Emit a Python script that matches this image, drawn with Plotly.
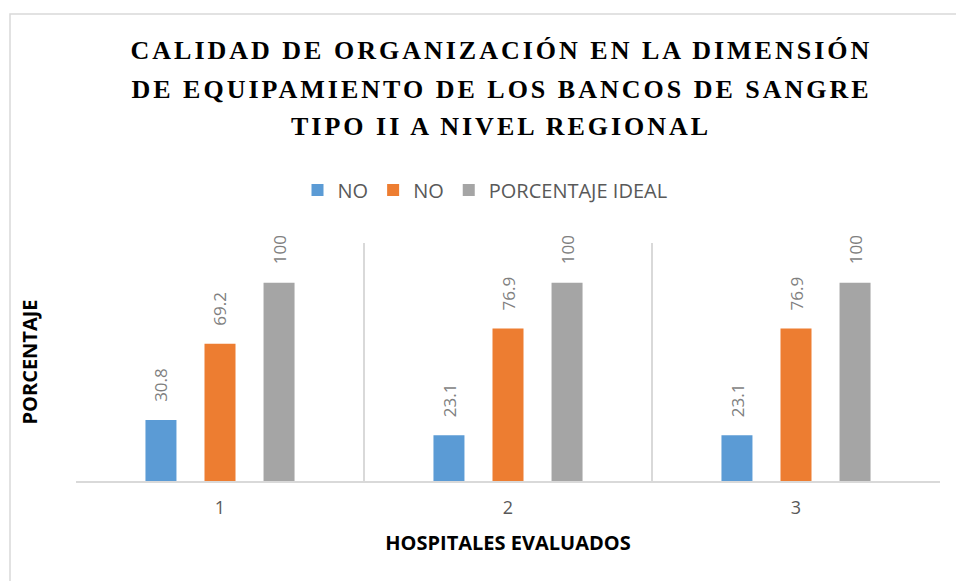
import plotly.graph_objects as go

# Hospitals evaluated and percentages per series
hospitales = [1, 2, 3]
serie_no_1 = [30.8, 23.1, 23.1]
serie_no_2 = [69.2, 76.9, 76.9]
porcentaje_ideal = [100, 100, 100]

nombres = ["NO", "NO", "PORCENTAJE IDEAL"]
colores = ["#5B9BD5", "#ED7D31", "#A5A5A5"]
series = [serie_no_1, serie_no_2, porcentaje_ideal]

titulo = [
    "CALIDAD DE ORGANIZACIÓN EN LA DIMENSIÓN",
    "DE EQUIPAMIENTO DE LOS BANCOS DE SANGRE",
    "TIPO II A NIVEL REGIONAL",
]

W, H = 956, 581
M_L, M_R, M_T, M_B = 76, 16, 243, 100
BARGAP = 0.385
BARGROUPGAP = 0.475
plot_h = H - M_T - M_B
plot_w = W - M_L - M_R


def paper_y(px):
    return (H - M_B - px) / plot_h


def paper_x(px):
    return (px - M_L) / plot_w


fig = go.Figure()
for nombre, color, valores in zip(nombres, colores, series):
    fig.add_trace(go.Bar(x=hospitales, y=valores, name=nombre,
                         marker=dict(color=color, line=dict(width=0))))

annotations = []
# Title lines (letter spacing applied with CSS below)
for linea, ypx in zip(titulo, [50, 89, 127]):
    annotations.append(dict(
        text=linea, xref="paper", yref="paper", x=paper_x(501), y=paper_y(ypx),
        xanchor="center", yanchor="middle", showarrow=False,
        font=dict(family="Liberation Serif", size=26, color="#000000", weight="bold"),
    ))

# Rotated value labels above each bar
slot = (1 - BARGAP) / len(series)
for i, valores in enumerate(series):
    desplaz = (i - (len(series) - 1) / 2) * slot
    for h, v in zip(hospitales, valores):
        annotations.append(dict(
            text=f"{v:g}", x=h + desplaz, y=v, xref="x", yref="y",
            xanchor="center", yanchor="bottom", yshift=16, textangle=-90,
            showarrow=False, font=dict(family="Open Sans", size=17, color="#7F7F7F"),
        ))

fig.update_layout(
    width=W, height=H,
    margin=dict(l=M_L, r=M_R, t=M_T, b=M_B),
    paper_bgcolor="white", plot_bgcolor="white",
    barmode="group", bargap=BARGAP, bargroupgap=BARGROUPGAP,
    font=dict(family="Open Sans", color="#595959"),
    showlegend=True,
    legend=dict(orientation="h", x=paper_x(485), y=paper_y(190),
                xanchor="center", yanchor="middle",
                font=dict(family="Open Sans", size=20, color="#595959"),
                bgcolor="rgba(0,0,0,0)"),
    annotations=annotations,
    shapes=[dict(type="rect", xref="paper", yref="paper",
                 x0=paper_x(10), x1=paper_x(W + 20), y0=paper_y(H + 20), y1=paper_y(14),
                 line=dict(color="#D9D9D9", width=1.5), layer="below")],
)

fig.update_xaxes(
    range=[0.5, 3.5], tickvals=hospitales, ticktext=[str(h) for h in hospitales],
    showgrid=False, zeroline=False,
    showline=True, linecolor="#D9D9D9", linewidth=1.5,
    ticks="", ticklabelstandoff=10,
    tickfont=dict(family="Open Sans", size=18, color="#595959"),
    minor=dict(tickvals=[0.5, 1.5, 2.5, 3.5], showgrid=True, gridcolor="#D9D9D9", gridwidth=1.5),
    title=dict(text="HOSPITALES EVALUADOS", standoff=18,
               font=dict(family="Open Sans", size=20, color="#000000", weight="bold")),
)
fig.update_yaxes(
    range=[0, 120], showgrid=False, zeroline=False, showticklabels=False,
    showline=False, ticks="",
    title=dict(text="PORCENTAJE", standoff=32,
               font=dict(family="Open Sans", size=20, color="#000000", weight="bold")),
)

css = ("var s=document.createElement('style');"
       "s.textContent='g.annotation[data-index=\"0\"] text,g.annotation[data-index=\"1\"] text,"
       "g.annotation[data-index=\"2\"] text{letter-spacing:3px}';"
       "document.head.appendChild(s);")
fig.write_html("out.html", post_script=css)
